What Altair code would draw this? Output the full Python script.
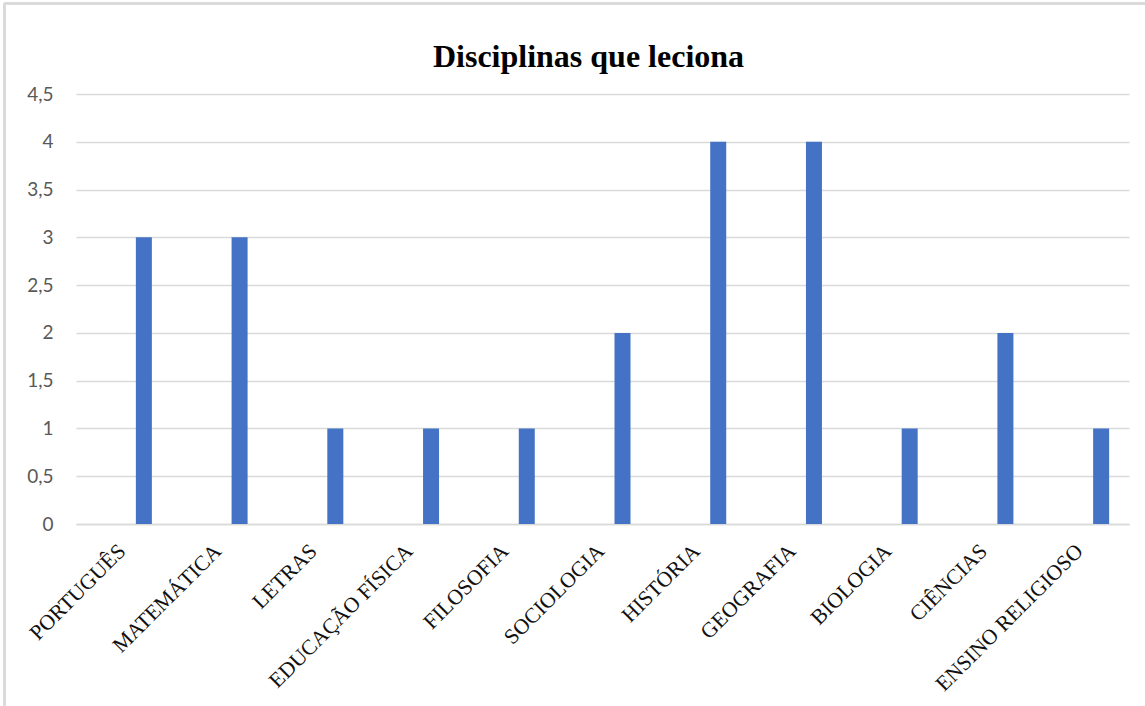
import altair as alt
import pandas as pd

# Disciplinas e número de professores que lecionam cada uma
disciplinas = [
    "PORTUGUÊS", "MATEMÁTICA", "LETRAS", "EDUCAÇÃO FÍSICA", "FILOSOFIA",
    "SOCIOLOGIA", "HISTÓRIA", "GEOGRAFIA", "BIOLOGIA", "CIÊNCIAS",
    "ENSINO RELIGIOSO",
]
quantidades = [3, 3, 1, 1, 1, 2, 4, 4, 1, 2, 1]
marcas_y = [0, 0.5, 1, 1.5, 2, 2.5, 3, 3.5, 4, 4.5]

df = pd.DataFrame({"disciplina": disciplinas, "quantidade": quantidades})

GRID = "#d9d9d9"

barras = alt.Chart(df).mark_bar(width=16, xOffset=20, color="#4472C4").encode(
    x=alt.X(
        "disciplina:N",
        sort=disciplinas,
        scale=alt.Scale(paddingInner=0, paddingOuter=0),
        axis=alt.Axis(
            title=None,
            labelAngle=-45,
            labelAlign="right",
            labelBaseline="alphabetic",
            labelPadding=28,
            labelOffset=3,
            labelFont="Liberation Serif",
            labelFontSize=21.5,
            labelColor="#111111",
            labelLimit=0,
            ticks=False,
            domain=True,
            domainColor=GRID,
            domainWidth=1.3,
            labelOverlap=False,
        ),
    ),
    y=alt.Y(
        "quantidade:Q",
        scale=alt.Scale(domain=[0, 4.5], nice=False),
        axis=alt.Axis(
            title=None,
            values=marcas_y,
            labelExpr="replace(format(datum.value, '.1~f'), '.', ',')",
            labelFont="Lato",
            labelFontSize=19,
            labelColor="#595959",
            labelPadding=23,
            ticks=False,
            domain=False,
            grid=True,
            gridColor=GRID,
            gridWidth=1.3,
        ),
    ),
)

# moldura da área do gráfico (bordas superior e esquerda)
moldura_topo = alt.Chart(df).mark_rule(color=GRID, strokeWidth=1.5).encode(
    x=alt.value(-72), x2=alt.value(1100), y=alt.value(-90.5)
)
moldura_esq = alt.Chart(df).mark_rule(color=GRID, strokeWidth=1.5).encode(
    x=alt.value(-71.5), y=alt.value(-91), y2=alt.value(700)
)

chart = (
    alt.layer(barras, moldura_topo, moldura_esq)
    .properties(
        width=1053,
        height=430,
        title=alt.TitleParams(
            "Disciplinas que leciona",
            font="Liberation Serif",
            fontSize=32,
            fontWeight="bold",
            color="#000000",
            baseline="alphabetic",
            offset=-97,
            dx=-14,
        ),
        autosize=alt.AutoSizeParams(type="none"),
        padding={"left": 76, "top": 94, "right": 16, "bottom": 182},
        background="white",
    )
    .configure_view(stroke=None)
)

chart.save("out.html", embed_options={"renderer": "svg", "actions": False})
